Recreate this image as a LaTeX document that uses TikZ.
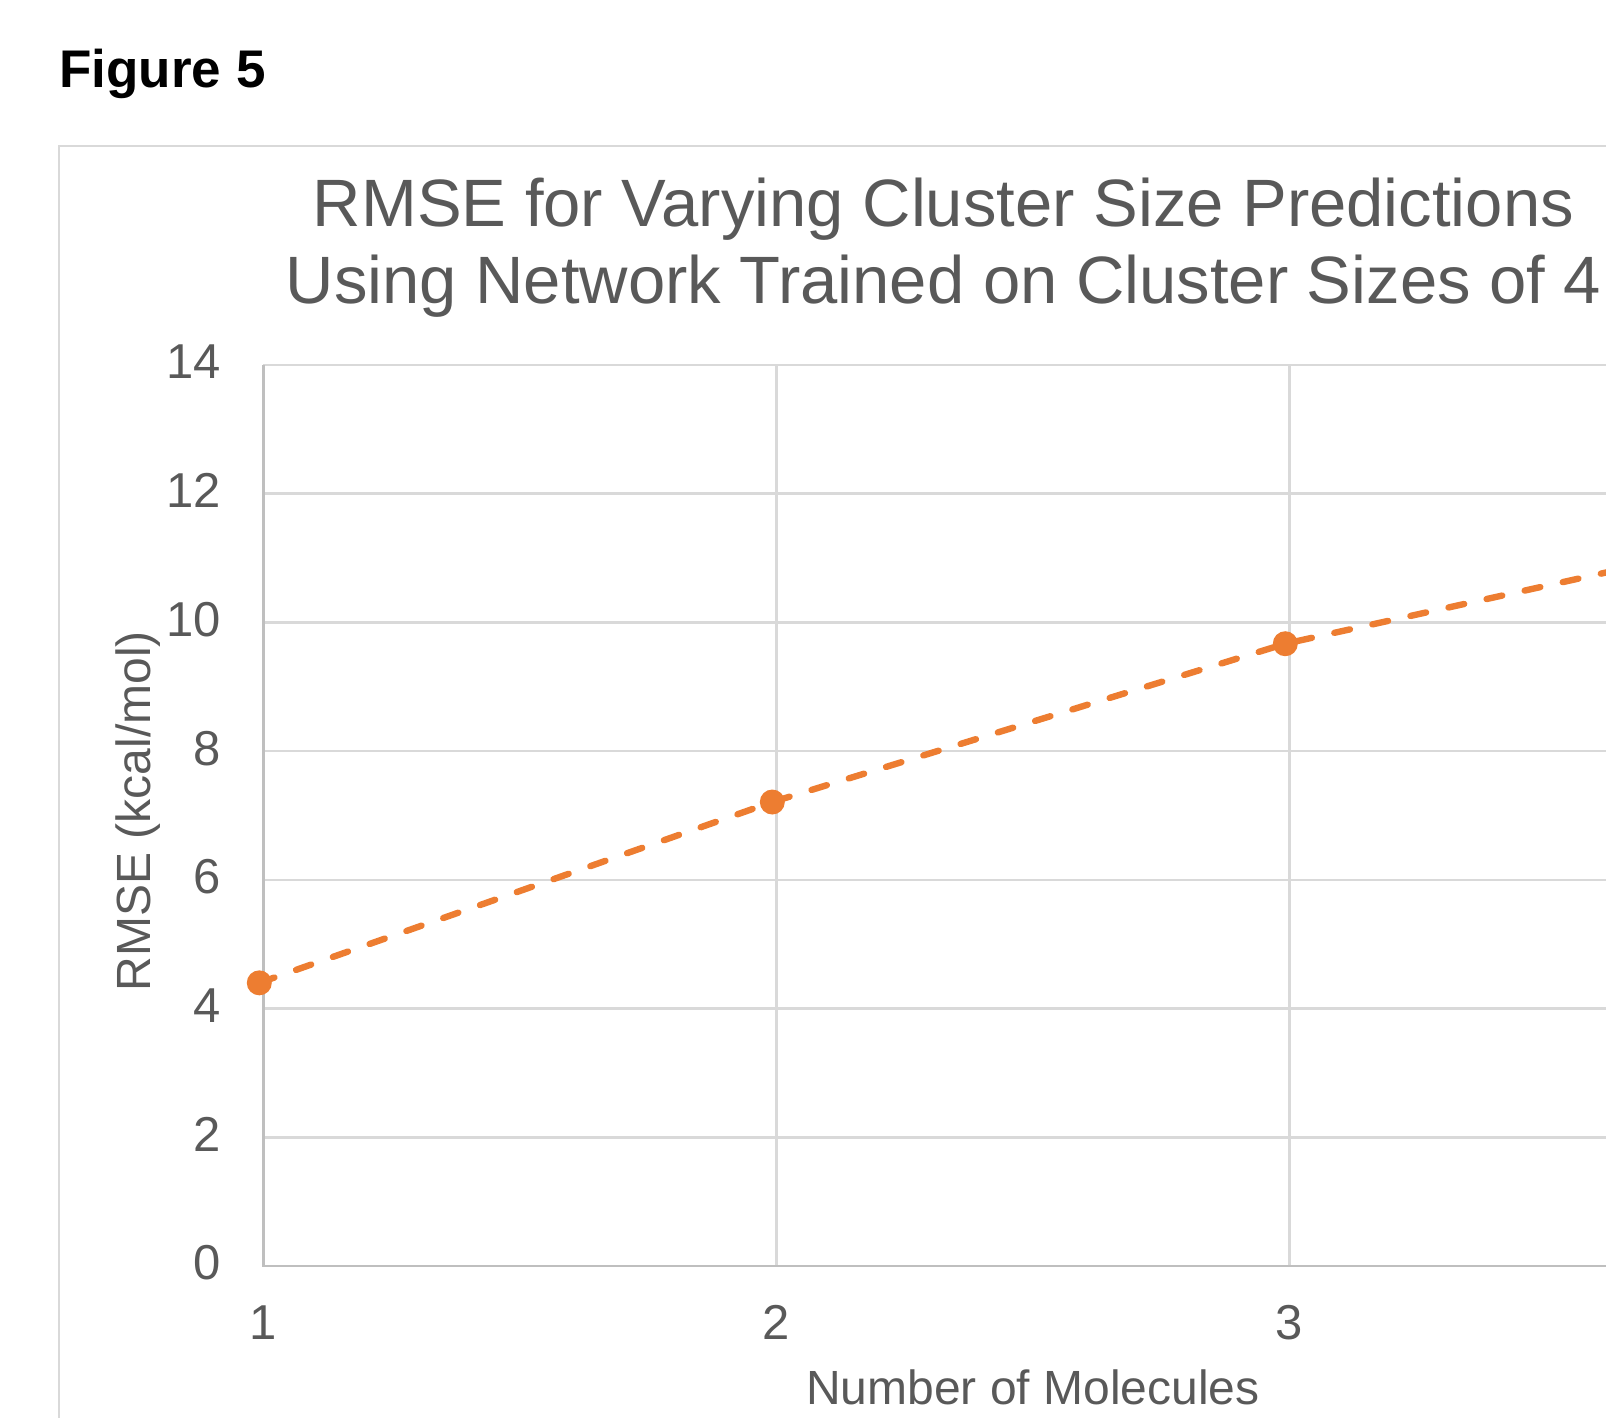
\documentclass[tikz,border=0pt]{standalone}
\usepackage{fontspec}
\setmainfont{Liberation Sans}

\definecolor{txtgray}{HTML}{595959}
\definecolor{gridgray}{HTML}{D9D9D9}
\definecolor{axisgray}{HTML}{BFBFBF}
\definecolor{seriesorange}{HTML}{ED7D31}

\tikzset{
  gridline/.style={gridgray, line width=1.3pt},
  axisline/.style={axisgray, line width=1.4pt},
  charttitle/.style={txtgray, inner sep=0pt, font=\fontsize{33.5}{38}\selectfont},
  ticklabel/.style={txtgray, inner sep=0pt, font=\fontsize{24.5}{28}\selectfont},
  axislabel/.style={txtgray, inner sep=0pt, font=\fontsize{24}{28}\selectfont},
  seriesline/.style={seriesorange, line width=3.2pt, line cap=round, dash pattern=on 8pt off 11.5pt},
  datapoint/.style={circle, fill=seriesorange, inner sep=0pt, minimum size=12.5pt},
}

\begin{document}
\begin{tikzpicture}[x=0.5pt, y=0.5pt]
  \useasboundingbox (0,0) rectangle (1606,1418);
  \clip (0,0) rectangle (1606,1418);

  % Figure label
  \node[anchor=base west, inner sep=0pt, font=\bfseries\fontsize{26.5}{30}\selectfont] (figlabel) at (59,1330) {Figure 5};

  % Chart frame, runs off the page
  \draw[gridgray, line width=1pt] (59,-10) -- (59,1272) -- (1620,1272);

  % Chart title
  \node[charttitle, anchor=base] (title1) at (943.5,1191) {RMSE for Varying Cluster Size Predictions};
  \node[charttitle, anchor=base] (title2) at (943.5,1114) {Using Network Trained on Cluster Sizes of 4};

  % Axis titles
  \node[axislabel, anchor=base] (xtitle) at (1032.9,13) {Number of Molecules};
  \node[axislabel, anchor=base, rotate=90] (ytitle) at (150,607) {RMSE (kcal/mol)};

  % Plot area in data units
  \begin{scope}[shift={(-249.7,152)}, x=256.5pt, y=32.175pt]
    % Grid
    \foreach \y in {2,4,...,14}
      \draw[gridline] (1,\y) -- (4.2,\y);
    \foreach \x in {2,3,4}
      \draw[gridline] (\x,0) -- (\x,14);

    % Axes
    \draw[axisline] (1,14) -- (1,0) -- (4.2,0);

    % Tick labels
    \foreach \y in {0,2,...,14}
      \node[ticklabel, anchor=east] (ylab\y) at ([xshift=-21pt, yshift=1.5pt]1,\y) {\y};
    \foreach \x in {1,2,3}
      \node[ticklabel, anchor=north] (xlab\x) at ([yshift=-19.5pt]\x,0) {\x};

    % Data
    \coordinate (p1) at ([xshift=-2pt]1,4.40);
    \coordinate (p2) at ([xshift=-2pt]2,7.21);
    \coordinate (p3) at ([xshift=-2pt]3,9.67);
    \coordinate (p4) at ([xshift=-2pt]4,11.44);

    \draw[seriesline] (p1) -- (p2) -- (p3) -- (p4);
    \foreach \i in {1,2,3}
      \node[datapoint] (dot\i) at (p\i) {};
  \end{scope}
\end{tikzpicture}
\end{document}
